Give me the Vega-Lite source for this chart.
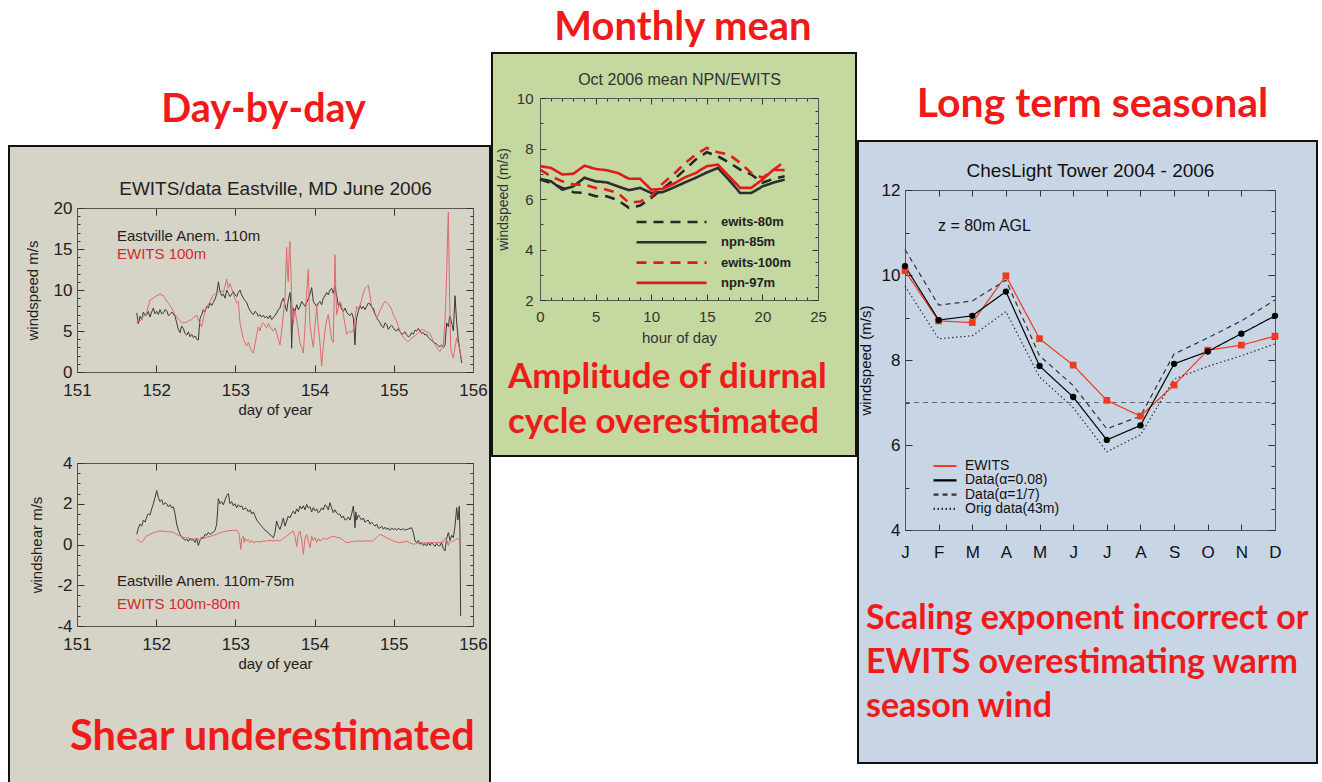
{
  "$schema": "https://vega.github.io/schema/vega-lite/v6.json",
  "padding": {"left": 8, "top": 0, "right": 0, "bottom": 0},
  "background": "white",
  "datasets": {
    "anemTop": [
      {"d":151.754,"v":7.2},{"d":151.775,"v":5.9},{"d":151.796,"v":6.8},{"d":151.817,"v":6.4},{"d":151.838,"v":7.3},{"d":151.86,"v":6.9},{"d":151.88,"v":7.0},{"d":151.9,"v":7.4},{"d":151.922,"v":6.7},{"d":151.943,"v":7.3},{"d":151.964,"v":7.8},{"d":151.985,"v":7.1},{"d":152.006,"v":7.4},{"d":152.027,"v":7.0},{"d":152.048,"v":7.6},{"d":152.07,"v":7.1},{"d":152.09,"v":7.2},{"d":152.111,"v":7.6},{"d":152.132,"v":7.5},{"d":152.153,"v":6.9},{"d":152.174,"v":7.0},{"d":152.2,"v":7.3},{"d":152.238,"v":6.8},{"d":152.259,"v":6.0},{"d":152.28,"v":5.2},{"d":152.301,"v":4.8},{"d":152.322,"v":5.6},{"d":152.343,"v":5.3},{"d":152.364,"v":4.7},{"d":152.385,"v":4.5},{"d":152.406,"v":4.9},{"d":152.427,"v":4.3},{"d":152.448,"v":4.6},{"d":152.469,"v":4.2},{"d":152.49,"v":4.4},{"d":152.511,"v":4.0},{"d":152.532,"v":3.9},{"d":152.553,"v":6.5},{"d":152.574,"v":7.0},{"d":152.595,"v":7.6},{"d":152.616,"v":7.3},{"d":152.637,"v":8.0},{"d":152.658,"v":7.8},{"d":152.68,"v":8.4},{"d":152.7,"v":8.1},{"d":152.722,"v":8.5},{"d":152.743,"v":8.9},{"d":152.764,"v":9.5},{"d":152.785,"v":11.0},{"d":152.806,"v":9.8},{"d":152.827,"v":9.3},{"d":152.848,"v":9.5},{"d":152.87,"v":9.0},{"d":152.89,"v":10.0},{"d":152.911,"v":9.6},{"d":152.932,"v":9.2},{"d":152.953,"v":9.5},{"d":152.974,"v":9.8},{"d":152.995,"v":9.4},{"d":153.016,"v":9.2},{"d":153.037,"v":9.7},{"d":153.058,"v":10.0},{"d":153.079,"v":9.4},{"d":153.1,"v":9.0},{"d":153.121,"v":8.7},{"d":153.142,"v":8.5},{"d":153.164,"v":7.9},{"d":153.185,"v":7.5},{"d":153.206,"v":7.2},{"d":153.226,"v":7.0},{"d":153.248,"v":7.4},{"d":153.269,"v":7.2},{"d":153.29,"v":6.8},{"d":153.31,"v":7.0},{"d":153.33,"v":6.7},{"d":153.353,"v":6.9},{"d":153.374,"v":6.6},{"d":153.395,"v":6.8},{"d":153.416,"v":6.5},{"d":153.437,"v":6.9},{"d":153.458,"v":6.4},{"d":153.479,"v":6.6},{"d":153.5,"v":6.9},{"d":153.521,"v":7.2},{"d":153.542,"v":7.6},{"d":153.563,"v":7.8},{"d":153.584,"v":8.6},{"d":153.605,"v":9.0},{"d":153.626,"v":8.2},{"d":153.647,"v":7.4},{"d":153.668,"v":8.8},{"d":153.689,"v":9.7},{"d":153.7,"v":8.5},{"d":153.71,"v":2.9},{"d":153.72,"v":6.0},{"d":153.731,"v":7.8},{"d":153.752,"v":7.4},{"d":153.774,"v":8.2},{"d":153.795,"v":7.6},{"d":153.816,"v":8.0},{"d":153.837,"v":8.6},{"d":153.858,"v":8.3},{"d":153.879,"v":8.0},{"d":153.9,"v":8.5},{"d":153.92,"v":8.9},{"d":153.942,"v":9.5},{"d":153.963,"v":10.3},{"d":153.984,"v":8.6},{"d":154.005,"v":8.3},{"d":154.026,"v":8.0},{"d":154.047,"v":8.4},{"d":154.068,"v":8.6},{"d":154.089,"v":8.2},{"d":154.11,"v":9.0},{"d":154.131,"v":9.3},{"d":154.152,"v":9.7},{"d":154.173,"v":9.4},{"d":154.194,"v":10.0},{"d":154.215,"v":10.2},{"d":154.236,"v":9.6},{"d":154.257,"v":10.5},{"d":154.278,"v":9.3},{"d":154.3,"v":8.1},{"d":154.32,"v":8.4},{"d":154.342,"v":7.6},{"d":154.363,"v":7.4},{"d":154.384,"v":7.8},{"d":154.405,"v":7.3},{"d":154.426,"v":7.0},{"d":154.447,"v":6.9},{"d":154.468,"v":7.2},{"d":154.489,"v":6.6},{"d":154.5,"v":5.0},{"d":154.51,"v":3.3},{"d":154.52,"v":5.5},{"d":154.531,"v":6.6},{"d":154.552,"v":7.4},{"d":154.573,"v":8.1},{"d":154.594,"v":7.7},{"d":154.615,"v":8.0},{"d":154.636,"v":7.6},{"d":154.657,"v":8.0},{"d":154.678,"v":8.4},{"d":154.7,"v":8.3},{"d":154.72,"v":7.9},{"d":154.741,"v":7.8},{"d":154.762,"v":7.1},{"d":154.784,"v":6.6},{"d":154.805,"v":6.3},{"d":154.826,"v":6.0},{"d":154.847,"v":5.6},{"d":154.868,"v":5.4},{"d":154.89,"v":6.0},{"d":154.91,"v":5.8},{"d":154.93,"v":5.2},{"d":154.952,"v":5.5},{"d":154.973,"v":5.7},{"d":154.994,"v":5.4},{"d":155.015,"v":5.1},{"d":155.036,"v":5.0},{"d":155.057,"v":5.3},{"d":155.078,"v":4.9},{"d":155.1,"v":4.6},{"d":155.12,"v":4.7},{"d":155.141,"v":4.9},{"d":155.162,"v":4.5},{"d":155.183,"v":4.3},{"d":155.204,"v":4.4},{"d":155.225,"v":4.8},{"d":155.246,"v":4.6},{"d":155.268,"v":5.1},{"d":155.29,"v":5.0},{"d":155.31,"v":5.3},{"d":155.331,"v":5.0},{"d":155.352,"v":4.7},{"d":155.373,"v":4.8},{"d":155.394,"v":4.5},{"d":155.415,"v":4.6},{"d":155.436,"v":4.2},{"d":155.457,"v":4.0},{"d":155.478,"v":3.8},{"d":155.499,"v":3.7},{"d":155.52,"v":3.5},{"d":155.541,"v":3.4},{"d":155.562,"v":3.2},{"d":155.583,"v":3.1},{"d":155.604,"v":3.3},{"d":155.625,"v":3.0},{"d":155.646,"v":3.2},{"d":155.667,"v":6.0},{"d":155.689,"v":5.5},{"d":155.705,"v":6.8},{"d":155.718,"v":6.5},{"d":155.735,"v":5.8},{"d":155.752,"v":5.0},{"d":155.773,"v":9.3},{"d":155.794,"v":6.0},{"d":155.815,"v":3.9},{"d":155.836,"v":2.5},{"d":155.857,"v":1.1}
    ],
    "ewitsTop": [
      {"d":151.754,"v":6.0},{"d":151.775,"v":6.3},{"d":151.796,"v":6.2},{"d":151.838,"v":6.8},{"d":151.88,"v":7.2},{"d":151.9,"v":8.0},{"d":151.922,"v":8.8},{"d":151.964,"v":9.0},{"d":152.006,"v":9.3},{"d":152.048,"v":9.5},{"d":152.09,"v":9.3},{"d":152.111,"v":9.0},{"d":152.153,"v":8.4},{"d":152.196,"v":7.8},{"d":152.238,"v":7.0},{"d":152.28,"v":6.5},{"d":152.322,"v":6.0},{"d":152.364,"v":6.0},{"d":152.406,"v":6.2},{"d":152.448,"v":6.4},{"d":152.49,"v":6.8},{"d":152.511,"v":6.9},{"d":152.532,"v":6.3},{"d":152.574,"v":5.5},{"d":152.616,"v":7.4},{"d":152.637,"v":7.9},{"d":152.68,"v":8.6},{"d":152.722,"v":9.4},{"d":152.764,"v":9.6},{"d":152.806,"v":10.0},{"d":152.848,"v":9.7},{"d":152.87,"v":10.5},{"d":152.89,"v":11.3},{"d":152.911,"v":10.2},{"d":152.932,"v":10.8},{"d":152.974,"v":9.5},{"d":153.016,"v":8.4},{"d":153.037,"v":8.6},{"d":153.058,"v":6.0},{"d":153.079,"v":5.0},{"d":153.1,"v":4.0},{"d":153.121,"v":3.6},{"d":153.142,"v":3.2},{"d":153.164,"v":3.6},{"d":153.185,"v":3.0},{"d":153.206,"v":2.6},{"d":153.226,"v":2.3},{"d":153.25,"v":3.5},{"d":153.27,"v":4.6},{"d":153.29,"v":5.5},{"d":153.31,"v":5.0},{"d":153.33,"v":5.8},{"d":153.353,"v":6.0},{"d":153.374,"v":5.6},{"d":153.395,"v":5.4},{"d":153.416,"v":5.9},{"d":153.437,"v":5.5},{"d":153.458,"v":5.2},{"d":153.479,"v":5.0},{"d":153.5,"v":5.4},{"d":153.521,"v":4.8},{"d":153.542,"v":4.0},{"d":153.563,"v":3.3},{"d":153.584,"v":5.0},{"d":153.605,"v":7.0},{"d":153.626,"v":9.0},{"d":153.647,"v":15.2},{"d":153.658,"v":12.0},{"d":153.668,"v":11.0},{"d":153.679,"v":14.8},{"d":153.689,"v":15.9},{"d":153.7,"v":12.5},{"d":153.71,"v":9.0},{"d":153.731,"v":5.8},{"d":153.752,"v":7.5},{"d":153.774,"v":6.4},{"d":153.795,"v":5.0},{"d":153.816,"v":3.5},{"d":153.837,"v":3.0},{"d":153.858,"v":2.3},{"d":153.879,"v":5.5},{"d":153.9,"v":9.7},{"d":153.921,"v":12.5},{"d":153.932,"v":8.0},{"d":153.942,"v":5.8},{"d":153.963,"v":4.2},{"d":153.984,"v":3.0},{"d":154.005,"v":5.6},{"d":154.026,"v":8.0},{"d":154.047,"v":5.5},{"d":154.068,"v":3.5},{"d":154.089,"v":0.7},{"d":154.11,"v":3.2},{"d":154.131,"v":5.0},{"d":154.152,"v":6.3},{"d":154.173,"v":7.0},{"d":154.194,"v":5.5},{"d":154.215,"v":4.0},{"d":154.236,"v":3.6},{"d":154.247,"v":9.0},{"d":154.257,"v":14.3},{"d":154.268,"v":10.0},{"d":154.278,"v":7.0},{"d":154.3,"v":7.8},{"d":154.32,"v":8.6},{"d":154.342,"v":8.0},{"d":154.363,"v":7.0},{"d":154.384,"v":5.8},{"d":154.405,"v":4.6},{"d":154.426,"v":4.9},{"d":154.447,"v":5.0},{"d":154.468,"v":4.8},{"d":154.489,"v":5.2},{"d":154.51,"v":6.5},{"d":154.531,"v":8.0},{"d":154.552,"v":7.7},{"d":154.573,"v":8.1},{"d":154.594,"v":8.8},{"d":154.615,"v":9.6},{"d":154.636,"v":10.2},{"d":154.657,"v":10.4},{"d":154.678,"v":10.6},{"d":154.7,"v":9.3},{"d":154.72,"v":8.0},{"d":154.741,"v":7.4},{"d":154.762,"v":7.0},{"d":154.784,"v":6.6},{"d":154.805,"v":7.0},{"d":154.826,"v":7.5},{"d":154.847,"v":7.9},{"d":154.868,"v":8.3},{"d":154.89,"v":8.6},{"d":154.91,"v":8.5},{"d":154.93,"v":8.3},{"d":154.952,"v":8.0},{"d":154.973,"v":7.6},{"d":154.994,"v":7.0},{"d":155.015,"v":6.6},{"d":155.036,"v":6.2},{"d":155.057,"v":5.6},{"d":155.078,"v":5.0},{"d":155.1,"v":4.6},{"d":155.12,"v":4.2},{"d":155.141,"v":4.0},{"d":155.162,"v":3.8},{"d":155.183,"v":3.7},{"d":155.204,"v":3.9},{"d":155.225,"v":4.1},{"d":155.246,"v":4.3},{"d":155.268,"v":4.4},{"d":155.29,"v":4.6},{"d":155.31,"v":4.8},{"d":155.331,"v":5.0},{"d":155.352,"v":5.2},{"d":155.373,"v":5.1},{"d":155.394,"v":5.0},{"d":155.415,"v":4.9},{"d":155.436,"v":4.8},{"d":155.457,"v":4.7},{"d":155.478,"v":4.2},{"d":155.499,"v":3.7},{"d":155.52,"v":3.3},{"d":155.541,"v":3.0},{"d":155.562,"v":2.7},{"d":155.583,"v":2.5},{"d":155.604,"v":2.9},{"d":155.625,"v":3.2},{"d":155.646,"v":6.2},{"d":155.658,"v":9.0},{"d":155.67,"v":13.0},{"d":155.68,"v":17.0},{"d":155.689,"v":19.5},{"d":155.697,"v":14.0},{"d":155.705,"v":9.0},{"d":155.718,"v":2.9},{"d":155.735,"v":2.2},{"d":155.752,"v":1.7},{"d":155.773,"v":3.0},{"d":155.794,"v":4.2},{"d":155.815,"v":3.4},{"d":155.836,"v":2.6},{"d":155.857,"v":1.5}
    ],
    "anemShear": [
      {"d":151.754,"v":0.5},{"d":151.775,"v":0.8},{"d":151.796,"v":1.0},{"d":151.817,"v":0.9},{"d":151.838,"v":1.2},{"d":151.86,"v":1.1},{"d":151.88,"v":1.35},{"d":151.9,"v":1.5},{"d":151.922,"v":1.45},{"d":151.943,"v":1.75},{"d":151.964,"v":2.0},{"d":151.985,"v":2.3},{"d":152.006,"v":2.65},{"d":152.027,"v":2.3},{"d":152.048,"v":2.1},{"d":152.07,"v":2.2},{"d":152.09,"v":1.95},{"d":152.111,"v":2.05},{"d":152.132,"v":2.0},{"d":152.153,"v":1.85},{"d":152.174,"v":1.95},{"d":152.196,"v":1.8},{"d":152.217,"v":1.85},{"d":152.238,"v":1.5},{"d":152.259,"v":1.0},{"d":152.28,"v":0.7},{"d":152.301,"v":0.5},{"d":152.322,"v":0.35},{"d":152.343,"v":0.3},{"d":152.364,"v":0.2},{"d":152.385,"v":0.27},{"d":152.406,"v":0.15},{"d":152.427,"v":0.3},{"d":152.448,"v":0.2},{"d":152.469,"v":0.25},{"d":152.49,"v":0.1},{"d":152.511,"v":0.3},{"d":152.532,"v":-0.05},{"d":152.553,"v":0.2},{"d":152.574,"v":0.35},{"d":152.595,"v":0.3},{"d":152.616,"v":0.5},{"d":152.637,"v":0.45},{"d":152.658,"v":0.6},{"d":152.68,"v":0.5},{"d":152.7,"v":0.55},{"d":152.722,"v":0.6},{"d":152.743,"v":0.7},{"d":152.764,"v":1.0},{"d":152.785,"v":2.25},{"d":152.806,"v":2.0},{"d":152.827,"v":2.1},{"d":152.848,"v":1.95},{"d":152.87,"v":2.2},{"d":152.89,"v":2.4},{"d":152.911,"v":2.5},{"d":152.932,"v":2.0},{"d":152.953,"v":2.1},{"d":152.974,"v":1.9},{"d":152.995,"v":2.0},{"d":153.016,"v":1.8},{"d":153.037,"v":1.95},{"d":153.058,"v":1.85},{"d":153.079,"v":1.9},{"d":153.1,"v":1.7},{"d":153.121,"v":1.8},{"d":153.143,"v":1.75},{"d":153.164,"v":1.6},{"d":153.185,"v":1.7},{"d":153.206,"v":1.5},{"d":153.227,"v":1.6},{"d":153.248,"v":1.4},{"d":153.269,"v":1.2},{"d":153.29,"v":1.1},{"d":153.31,"v":0.99},{"d":153.33,"v":0.9},{"d":153.353,"v":0.8},{"d":153.374,"v":0.7},{"d":153.395,"v":0.66},{"d":153.416,"v":0.55},{"d":153.437,"v":0.5},{"d":153.458,"v":0.4},{"d":153.479,"v":0.33},{"d":153.5,"v":0.6},{"d":153.521,"v":1.15},{"d":153.542,"v":0.9},{"d":153.563,"v":0.74},{"d":153.584,"v":1.0},{"d":153.605,"v":1.3},{"d":153.626,"v":0.9},{"d":153.647,"v":1.15},{"d":153.668,"v":1.4},{"d":153.689,"v":1.3},{"d":153.71,"v":1.5},{"d":153.731,"v":1.64},{"d":153.752,"v":1.5},{"d":153.774,"v":1.75},{"d":153.795,"v":1.6},{"d":153.816,"v":1.89},{"d":153.837,"v":1.75},{"d":153.858,"v":1.9},{"d":153.879,"v":1.7},{"d":153.9,"v":1.97},{"d":153.92,"v":1.8},{"d":153.942,"v":1.85},{"d":153.963,"v":1.6},{"d":153.984,"v":1.81},{"d":154.005,"v":1.65},{"d":154.026,"v":1.75},{"d":154.047,"v":1.55},{"d":154.068,"v":1.64},{"d":154.089,"v":1.8},{"d":154.11,"v":1.7},{"d":154.131,"v":1.95},{"d":154.152,"v":1.89},{"d":154.173,"v":1.7},{"d":154.194,"v":2.05},{"d":154.215,"v":1.8},{"d":154.236,"v":1.56},{"d":154.257,"v":1.7},{"d":154.278,"v":1.55},{"d":154.3,"v":1.48},{"d":154.32,"v":1.5},{"d":154.342,"v":1.3},{"d":154.363,"v":1.4},{"d":154.384,"v":1.2},{"d":154.405,"v":1.23},{"d":154.426,"v":1.35},{"d":154.447,"v":1.2},{"d":154.468,"v":1.5},{"d":154.489,"v":1.89},{"d":154.5,"v":1.4},{"d":154.51,"v":0.82},{"d":154.52,"v":1.6},{"d":154.531,"v":1.2},{"d":154.552,"v":1.45},{"d":154.573,"v":1.32},{"d":154.594,"v":1.2},{"d":154.615,"v":1.3},{"d":154.636,"v":1.1},{"d":154.657,"v":1.15},{"d":154.678,"v":1.2},{"d":154.7,"v":1.0},{"d":154.72,"v":1.1},{"d":154.741,"v":0.99},{"d":154.762,"v":0.9},{"d":154.784,"v":1.0},{"d":154.805,"v":0.8},{"d":154.826,"v":0.82},{"d":154.847,"v":0.9},{"d":154.868,"v":0.75},{"d":154.89,"v":0.85},{"d":154.91,"v":0.74},{"d":154.93,"v":0.8},{"d":154.952,"v":0.7},{"d":154.973,"v":0.8},{"d":154.994,"v":0.74},{"d":155.015,"v":0.78},{"d":155.036,"v":0.7},{"d":155.057,"v":0.8},{"d":155.078,"v":0.74},{"d":155.1,"v":0.72},{"d":155.12,"v":0.78},{"d":155.141,"v":0.7},{"d":155.162,"v":0.74},{"d":155.183,"v":0.76},{"d":155.204,"v":0.8},{"d":155.225,"v":0.82},{"d":155.246,"v":0.6},{"d":155.268,"v":0.17},{"d":155.29,"v":0.1},{"d":155.31,"v":0.2},{"d":155.331,"v":0.01},{"d":155.352,"v":0.1},{"d":155.373,"v":-0.05},{"d":155.394,"v":0.05},{"d":155.415,"v":-0.07},{"d":155.436,"v":0.1},{"d":155.457,"v":-0.05},{"d":155.478,"v":0.08},{"d":155.499,"v":0.01},{"d":155.52,"v":-0.1},{"d":155.541,"v":0.05},{"d":155.562,"v":-0.05},{"d":155.583,"v":-0.07},{"d":155.604,"v":0.1},{"d":155.625,"v":-0.2},{"d":155.646,"v":-0.32},{"d":155.667,"v":0.3},{"d":155.689,"v":0.58},{"d":155.71,"v":0.2},{"d":155.731,"v":0.45},{"d":155.752,"v":0.33},{"d":155.773,"v":0.9},{"d":155.794,"v":1.81},{"d":155.81,"v":1.2},{"d":155.827,"v":1.89},{"d":155.836,"v":0.5},{"d":155.844,"v":-3.51}
    ],
    "ewitsShear": [
      {"d":151.754,"v":0.25},{"d":151.775,"v":0.2},{"d":151.796,"v":0.15},{"d":151.817,"v":0.09},{"d":151.838,"v":0.2},{"d":151.86,"v":0.35},{"d":151.88,"v":0.41},{"d":151.922,"v":0.5},{"d":151.964,"v":0.58},{"d":152.006,"v":0.62},{"d":152.048,"v":0.66},{"d":152.09,"v":0.66},{"d":152.132,"v":0.64},{"d":152.174,"v":0.62},{"d":152.217,"v":0.6},{"d":152.259,"v":0.5},{"d":152.301,"v":0.42},{"d":152.343,"v":0.36},{"d":152.385,"v":0.33},{"d":152.427,"v":0.3},{"d":152.469,"v":0.27},{"d":152.511,"v":0.28},{"d":152.553,"v":0.25},{"d":152.595,"v":0.3},{"d":152.637,"v":0.35},{"d":152.68,"v":0.4},{"d":152.722,"v":0.45},{"d":152.764,"v":0.5},{"d":152.806,"v":0.58},{"d":152.848,"v":0.62},{"d":152.89,"v":0.66},{"d":152.932,"v":0.68},{"d":152.974,"v":0.7},{"d":153.016,"v":0.7},{"d":153.037,"v":0.62},{"d":153.048,"v":0.5},{"d":153.058,"v":0.1},{"d":153.069,"v":-0.24},{"d":153.079,"v":0.3},{"d":153.1,"v":0.41},{"d":153.11,"v":0.1},{"d":153.121,"v":0.3},{"d":153.142,"v":0.17},{"d":153.164,"v":0.25},{"d":153.185,"v":0.09},{"d":153.206,"v":0.2},{"d":153.226,"v":0.09},{"d":153.269,"v":0.15},{"d":153.31,"v":0.12},{"d":153.353,"v":0.17},{"d":153.395,"v":0.17},{"d":153.437,"v":0.2},{"d":153.479,"v":0.17},{"d":153.521,"v":0.2},{"d":153.563,"v":0.17},{"d":153.605,"v":0.3},{"d":153.647,"v":0.41},{"d":153.689,"v":0.55},{"d":153.731,"v":0.66},{"d":153.752,"v":0.4},{"d":153.774,"v":-0.1},{"d":153.795,"v":0.5},{"d":153.816,"v":0.66},{"d":153.837,"v":0.2},{"d":153.858,"v":-0.48},{"d":153.879,"v":0.3},{"d":153.9,"v":0.5},{"d":153.92,"v":0.2},{"d":153.942,"v":-0.16},{"d":153.963,"v":0.4},{"d":153.984,"v":0.2},{"d":154.005,"v":0.33},{"d":154.026,"v":0.1},{"d":154.047,"v":0.3},{"d":154.068,"v":0.17},{"d":154.11,"v":0.3},{"d":154.152,"v":0.25},{"d":154.194,"v":0.35},{"d":154.236,"v":0.41},{"d":154.278,"v":0.35},{"d":154.32,"v":0.33},{"d":154.363,"v":0.2},{"d":154.405,"v":0.09},{"d":154.447,"v":0.12},{"d":154.489,"v":0.15},{"d":154.531,"v":0.17},{"d":154.573,"v":0.17},{"d":154.615,"v":0.16},{"d":154.657,"v":0.18},{"d":154.7,"v":0.17},{"d":154.741,"v":0.17},{"d":154.784,"v":0.35},{"d":154.826,"v":0.5},{"d":154.868,"v":0.42},{"d":154.91,"v":0.33},{"d":154.952,"v":0.25},{"d":154.994,"v":0.17},{"d":155.036,"v":0.12},{"d":155.078,"v":0.09},{"d":155.12,"v":0.12},{"d":155.162,"v":0.17},{"d":155.204,"v":0.08},{"d":155.246,"v":0.01},{"d":155.29,"v":0.05},{"d":155.331,"v":0.09},{"d":155.373,"v":0.07},{"d":155.415,"v":0.08},{"d":155.457,"v":0.09},{"d":155.499,"v":0.09},{"d":155.541,"v":0.1},{"d":155.583,"v":0.09},{"d":155.625,"v":0.15},{"d":155.646,"v":0.3},{"d":155.667,"v":0.25},{"d":155.689,"v":-0.05},{"d":155.71,"v":0.2},{"d":155.731,"v":0.15},{"d":155.752,"v":0.17},{"d":155.773,"v":0.2},{"d":155.794,"v":0.3},{"d":155.815,"v":0.25},{"d":155.844,"v":0.17}
    ],
    "monthly": [
      {"s":"ewits-80m","h":0,"v":6.77},{"s":"ewits-80m","h":1,"v":6.64},{"s":"ewits-80m","h":2,"v":6.44},{"s":"ewits-80m","h":3,"v":6.27},{"s":"ewits-80m","h":4,"v":6.24},{"s":"ewits-80m","h":5,"v":6.11},{"s":"ewits-80m","h":6,"v":6.11},{"s":"ewits-80m","h":7,"v":5.95},{"s":"ewits-80m","h":8,"v":5.65},{"s":"ewits-80m","h":9,"v":5.74},{"s":"ewits-80m","h":10,"v":6.04},{"s":"ewits-80m","h":11,"v":6.4},{"s":"ewits-80m","h":12,"v":6.75},{"s":"ewits-80m","h":13,"v":7.15},{"s":"ewits-80m","h":14,"v":7.56},{"s":"ewits-80m","h":15,"v":7.85},{"s":"ewits-80m","h":16,"v":7.69},{"s":"ewits-80m","h":17,"v":7.45},{"s":"ewits-80m","h":18,"v":7.16},{"s":"ewits-80m","h":19,"v":6.97},{"s":"ewits-80m","h":20,"v":6.64},{"s":"ewits-80m","h":21,"v":6.8},{"s":"ewits-80m","h":22,"v":6.9},
      {"s":"npn-85m","h":0,"v":6.8},{"s":"npn-85m","h":1,"v":6.7},{"s":"npn-85m","h":2,"v":6.37},{"s":"npn-85m","h":3,"v":6.5},{"s":"npn-85m","h":4,"v":6.84},{"s":"npn-85m","h":5,"v":6.7},{"s":"npn-85m","h":6,"v":6.66},{"s":"npn-85m","h":7,"v":6.5},{"s":"npn-85m","h":8,"v":6.35},{"s":"npn-85m","h":9,"v":6.44},{"s":"npn-85m","h":10,"v":6.24},{"s":"npn-85m","h":11,"v":6.27},{"s":"npn-85m","h":12,"v":6.45},{"s":"npn-85m","h":13,"v":6.65},{"s":"npn-85m","h":14,"v":6.84},{"s":"npn-85m","h":15,"v":7.05},{"s":"npn-85m","h":16,"v":7.23},{"s":"npn-85m","h":17,"v":6.75},{"s":"npn-85m","h":18,"v":6.24},{"s":"npn-85m","h":19,"v":6.24},{"s":"npn-85m","h":20,"v":6.5},{"s":"npn-85m","h":21,"v":6.65},{"s":"npn-85m","h":22,"v":6.77},
      {"s":"ewits-100m","h":0,"v":7.16},{"s":"ewits-100m","h":1,"v":6.9},{"s":"ewits-100m","h":2,"v":6.7},{"s":"ewits-100m","h":3,"v":6.57},{"s":"ewits-100m","h":4,"v":6.57},{"s":"ewits-100m","h":5,"v":6.44},{"s":"ewits-100m","h":6,"v":6.37},{"s":"ewits-100m","h":7,"v":6.24},{"s":"ewits-100m","h":8,"v":5.85},{"s":"ewits-100m","h":9,"v":5.9},{"s":"ewits-100m","h":10,"v":6.1},{"s":"ewits-100m","h":11,"v":6.6},{"s":"ewits-100m","h":12,"v":6.97},{"s":"ewits-100m","h":13,"v":7.4},{"s":"ewits-100m","h":14,"v":7.76},{"s":"ewits-100m","h":15,"v":8.02},{"s":"ewits-100m","h":16,"v":7.85},{"s":"ewits-100m","h":17,"v":7.76},{"s":"ewits-100m","h":18,"v":7.43},{"s":"ewits-100m","h":19,"v":7.03},{"s":"ewits-100m","h":20,"v":6.84},{"s":"ewits-100m","h":21,"v":7.16},{"s":"ewits-100m","h":22,"v":7.49},
      {"s":"npn-97m","h":0,"v":7.3},{"s":"npn-97m","h":1,"v":7.23},{"s":"npn-97m","h":2,"v":6.97},{"s":"npn-97m","h":3,"v":7.0},{"s":"npn-97m","h":4,"v":7.32},{"s":"npn-97m","h":5,"v":7.19},{"s":"npn-97m","h":6,"v":7.14},{"s":"npn-97m","h":7,"v":7.03},{"s":"npn-97m","h":8,"v":6.8},{"s":"npn-97m","h":9,"v":6.8},{"s":"npn-97m","h":10,"v":6.37},{"s":"npn-97m","h":11,"v":6.4},{"s":"npn-97m","h":12,"v":6.6},{"s":"npn-97m","h":13,"v":6.85},{"s":"npn-97m","h":14,"v":7.03},{"s":"npn-97m","h":15,"v":7.3},{"s":"npn-97m","h":16,"v":7.36},{"s":"npn-97m","h":17,"v":6.9},{"s":"npn-97m","h":18,"v":6.44},{"s":"npn-97m","h":19,"v":6.44},{"s":"npn-97m","h":20,"v":6.77},{"s":"npn-97m","h":21,"v":7.16},{"s":"npn-97m","h":22,"v":7.14}
    ],
    "seasonal": [
      {"s":"EWITS","m":1,"v":10.1},{"s":"EWITS","m":2,"v":8.92},{"s":"EWITS","m":3,"v":8.88},{"s":"EWITS","m":4,"v":9.98},{"s":"EWITS","m":5,"v":8.5},{"s":"EWITS","m":6,"v":7.88},{"s":"EWITS","m":7,"v":7.05},{"s":"EWITS","m":8,"v":6.68},{"s":"EWITS","m":9,"v":7.41},{"s":"EWITS","m":10,"v":8.23},{"s":"EWITS","m":11,"v":8.35},{"s":"EWITS","m":12,"v":8.56},
      {"s":"Data(α=0.08)","m":1,"v":10.21},{"s":"Data(α=0.08)","m":2,"v":8.94},{"s":"Data(α=0.08)","m":3,"v":9.04},{"s":"Data(α=0.08)","m":4,"v":9.61},{"s":"Data(α=0.08)","m":5,"v":7.86},{"s":"Data(α=0.08)","m":6,"v":7.13},{"s":"Data(α=0.08)","m":7,"v":6.12},{"s":"Data(α=0.08)","m":8,"v":6.46},{"s":"Data(α=0.08)","m":9,"v":7.91},{"s":"Data(α=0.08)","m":10,"v":8.2},{"s":"Data(α=0.08)","m":11,"v":8.62},{"s":"Data(α=0.08)","m":12,"v":9.04},
      {"s":"Data(α=1/7)","m":1,"v":10.6},{"s":"Data(α=1/7)","m":2,"v":9.29},{"s":"Data(α=1/7)","m":3,"v":9.39},{"s":"Data(α=1/7)","m":4,"v":9.88},{"s":"Data(α=1/7)","m":5,"v":8.1},{"s":"Data(α=1/7)","m":6,"v":7.4},{"s":"Data(α=1/7)","m":7,"v":6.38},{"s":"Data(α=1/7)","m":8,"v":6.68},{"s":"Data(α=1/7)","m":9,"v":8.14},{"s":"Data(α=1/7)","m":10,"v":8.52},{"s":"Data(α=1/7)","m":11,"v":8.92},{"s":"Data(α=1/7)","m":12,"v":9.41},
      {"s":"Orig data(43m)","m":1,"v":9.74},{"s":"Orig data(43m)","m":2,"v":8.5},{"s":"Orig data(43m)","m":3,"v":8.57},{"s":"Orig data(43m)","m":4,"v":9.14},{"s":"Orig data(43m)","m":5,"v":7.6},{"s":"Orig data(43m)","m":6,"v":6.88},{"s":"Orig data(43m)","m":7,"v":5.84},{"s":"Orig data(43m)","m":8,"v":6.24},{"s":"Orig data(43m)","m":9,"v":7.55},{"s":"Orig data(43m)","m":10,"v":7.85},{"s":"Orig data(43m)","m":11,"v":8.1},{"s":"Orig data(43m)","m":12,"v":8.38}
    ]
  },
  "spacing": 0,
  "resolve": {"scale": {"color": "independent", "strokeDash": "independent"}, "legend": {"color": "independent", "strokeDash": "independent"}},
  "hconcat": [
    {
      "spacing": 0,
      "resolve": {"scale": {"color": "independent", "strokeDash": "independent"}, "legend": {"color": "independent", "strokeDash": "independent"}},
      "vconcat": [
        {
          "width": 481, "height": 145,
          "view": {"stroke": null},
          "data": {"values": [{"t": "Day-by-day"}]},
          "mark": {"type": "text", "font": "Lato", "fontWeight": "bold", "fontSize": 39.5, "color": "#f01a1a", "dy": 37, "dx": 14},
          "encoding": {"text": {"field": "t"}}
        },
        {
          "width": 481, "height": 637,
          "view": {"fill": "#d6d3c7", "stroke": "#111111", "strokeWidth": 2},
          "title": {"text": "Shear underestimated", "orient": "bottom", "anchor": "start", "frame": "group", "offset": -66, "dx": 61, "font": "Lato", "fontWeight": "bold", "fontSize": 41.5, "color": "#f01a1a"},
          "resolve": {"scale": {"x": "independent", "y": "independent", "color": "independent"}, "axis": {"x": "independent", "y": "independent"}, "legend": {"color": "independent"}},
          "layer": [
            {
              "data": {"name": "anemTop"},
              "mark": {"type": "line", "strokeWidth": 1},
              "encoding": {
                "x": {"field": "d", "type": "quantitative", "scale": {"domain": [151, 156], "range": [68, 464], "nice": false, "zero": false},
                  "axis": {"orient": "bottom", "offset": -411, "values": [151, 152, 153, 154, 155, 156], "format": "d", "labelOverlap": false, "tickSize": -7, "labelPadding": 17, "labelFontSize": 17, "title": "day of year", "titleFontSize": 15, "titlePadding": 4}},
                "y": {"field": "v", "type": "quantitative", "scale": {"domain": [0, 20], "range": [226, 62], "nice": false, "zero": false},
                  "axis": {"orient": "left", "offset": -68, "values": [0,1,2,3,4,5,6,7,8,9,10,11,12,13,14,15,16,17,18,19,20], "format": "d", "labelExpr": "datum.value % 5 == 0 ? datum.label : ''", "labelOverlap": false, "tickSize": {"condition": {"test": "datum.value % 5 == 0", "value": -7}, "value": -3}, "labelPadding": 12, "labelFontSize": 17, "title": "windspeed m/s", "titleFontSize": 15, "titlePadding": 13}},
                "color": {"datum": "Eastville Anem. 110m", "scale": {"range": ["#3a3a3a"]},
                  "legend": {"orient": "none", "legendX": 93, "legendY": 82, "title": null, "symbolSize": 0, "symbolStrokeWidth": 0, "symbolOpacity": 0, "labelOffset": 0, "padding": 0, "labelFontSize": 15, "labelColor": "#1e1e1e"}}
              }
            },
            {
              "data": {"name": "ewitsTop"},
              "mark": {"type": "line", "strokeWidth": 1},
              "encoding": {
                "x": {"field": "d", "type": "quantitative", "scale": {"domain": [151, 156], "range": [68, 464], "nice": false, "zero": false},
                  "axis": {"orient": "top", "offset": -62, "values": [151, 152, 153, 154, 155, 156], "labels": false, "tickSize": -7, "title": "EWITS/data Eastville, MD June 2006", "titleFontSize": 19, "titlePadding": 9}},
                "y": {"field": "v", "type": "quantitative", "scale": {"domain": [0, 20], "range": [226, 62], "nice": false, "zero": false},
                  "axis": {"orient": "right", "offset": -17, "values": [0,1,2,3,4,5,6,7,8,9,10,11,12,13,14,15,16,17,18,19,20], "labels": false, "tickSize": {"condition": {"test": "datum.value % 5 == 0", "value": -7}, "value": -3}, "title": null}},
                "color": {"datum": "EWITS 100m", "scale": {"range": ["#de6b6b"]},
                  "legend": {"orient": "none", "legendX": 93, "legendY": 100, "title": null, "symbolSize": 0, "symbolStrokeWidth": 0, "symbolOpacity": 0, "labelOffset": 0, "padding": 0, "labelFontSize": 15, "labelColor": "#d42a2a"}}
              }
            },
            {
              "data": {"name": "anemShear"},
              "mark": {"type": "line", "strokeWidth": 1},
              "encoding": {
                "x": {"field": "d", "type": "quantitative", "scale": {"domain": [151, 156], "range": [68, 464], "nice": false, "zero": false},
                  "axis": {"orient": "bottom", "offset": -157, "values": [151, 152, 153, 154, 155, 156], "format": "d", "labelOverlap": false, "tickSize": -7, "labelPadding": 17, "labelFontSize": 17, "title": "day of year", "titleFontSize": 15, "titlePadding": 4}},
                "y": {"field": "v", "type": "quantitative", "scale": {"domain": [-4, 4], "range": [480, 317], "nice": false, "zero": false},
                  "axis": {"orient": "left", "offset": -68, "values": [-4,-3.5,-3,-2.5,-2,-1.5,-1,-0.5,0,0.5,1,1.5,2,2.5,3,3.5,4], "labelExpr": "datum.value % 2 == 0 ? (datum.value < 0 ? '-' + abs(datum.value) : '' + datum.value) : ''", "labelOverlap": false, "tickSize": {"condition": {"test": "datum.value % 2 == 0", "value": -7}, "value": -3}, "labelPadding": 12, "labelFontSize": 17, "title": "windshear m/s", "titleFontSize": 15, "titlePadding": 12}},
                "color": {"datum": "Eastville Anem. 110m-75m", "scale": {"range": ["#3a3a3a"]},
                  "legend": {"orient": "none", "legendX": 93, "legendY": 427, "title": null, "symbolSize": 0, "symbolStrokeWidth": 0, "symbolOpacity": 0, "labelOffset": 0, "padding": 0, "labelFontSize": 15, "labelColor": "#1e1e1e"}}
              }
            },
            {
              "data": {"name": "ewitsShear"},
              "mark": {"type": "line", "strokeWidth": 1},
              "encoding": {
                "x": {"field": "d", "type": "quantitative", "scale": {"domain": [151, 156], "range": [68, 464], "nice": false, "zero": false},
                  "axis": {"orient": "top", "offset": -317, "values": [151, 152, 153, 154, 155, 156], "labels": false, "tickSize": -7, "title": null}},
                "y": {"field": "v", "type": "quantitative", "scale": {"domain": [-4, 4], "range": [480, 317], "nice": false, "zero": false},
                  "axis": {"orient": "right", "offset": -17, "values": [-4,-3.5,-3,-2.5,-2,-1.5,-1,-0.5,0,0.5,1,1.5,2,2.5,3,3.5,4], "labels": false, "tickSize": {"condition": {"test": "datum.value % 2 == 0", "value": -7}, "value": -3}, "title": null}},
                "color": {"datum": "EWITS 100m-80m", "scale": {"range": ["#de6b6b"]},
                  "legend": {"orient": "none", "legendX": 93, "legendY": 450, "title": null, "symbolSize": 0, "symbolStrokeWidth": 0, "symbolOpacity": 0, "labelOffset": 0, "padding": 0, "labelFontSize": 15, "labelColor": "#d42a2a"}}
              }
            }
          ]
        }
      ]
    },
    {
      "spacing": 0,
      "resolve": {"scale": {"color": "independent", "strokeDash": "independent"}, "legend": {"color": "independent", "strokeDash": "independent"}},
      "vconcat": [
        {
          "width": 364, "height": 52,
          "view": {"stroke": null},
          "data": {"values": [{"t": "Monthly mean"}]},
          "mark": {"type": "text", "font": "Lato", "fontWeight": "bold", "fontSize": 40, "color": "#f01a1a", "dy": 2, "dx": 9},
          "encoding": {"text": {"field": "t"}}
        },
        {
          "width": 364, "height": 403,
          "view": {"fill": "#c4d89f", "stroke": "#111111", "strokeWidth": 2},
          "title": {"text": ["Amplitude of diurnal", "cycle overestimated"], "orient": "bottom", "anchor": "start", "frame": "group", "offset": -96, "dx": 16, "lineHeight": 45, "font": "Lato", "fontWeight": "bold", "fontSize": 35, "color": "#f01a1a"},
          "data": {"name": "monthly"},
          "resolve": {"axis": {"x": "independent", "y": "independent"}},
          "layer": [
            {
              "mark": {"type": "line", "strokeWidth": 2.6},
              "encoding": {
                "x": {"field": "h", "type": "quantitative", "scale": {"domain": [0, 25], "range": [48, 326], "nice": false, "zero": false},
                  "axis": {"orient": "bottom", "offset": -156, "values": [0,1,2,3,4,5,6,7,8,9,10,11,12,13,14,15,16,17,18,19,20,21,22,23,24,25], "format": "d", "labelExpr": "datum.value % 5 == 0 ? datum.label : ''", "labelOverlap": false, "tickSize": {"condition": {"test": "datum.value % 5 == 0", "value": -6}, "value": -3}, "labelPadding": 15, "labelFontSize": 15, "labelColor": "#333333", "title": "hour of day", "titleFontSize": 15, "titleColor": "#333333", "titlePadding": 3}},
                "y": {"field": "v", "type": "quantitative", "scale": {"domain": [2, 10], "range": [247, 45], "nice": false, "zero": false},
                  "axis": {"orient": "left", "offset": -48, "values": [2,2.5,3,3.5,4,4.5,5,5.5,6,6.5,7,7.5,8,8.5,9,9.5,10], "format": "d", "labelExpr": "datum.value % 2 == 0 ? datum.label : ''", "labelOverlap": false, "tickSize": {"condition": {"test": "datum.value % 2 == 0", "value": -6}, "value": -3}, "labelPadding": 13, "labelFontSize": 15, "labelColor": "#333333", "title": "windspeed (m/s)", "titleFontSize": 14, "titleColor": "#333333", "titlePadding": 6}},
                "color": {"field": "s", "type": "nominal", "scale": {"domain": ["ewits-80m", "npn-85m", "ewits-100m", "npn-97m"], "range": ["#262626", "#2e2e2e", "#e01b1b", "#e01b1b"]},
                  "legend": {"orient": "none", "legendX": 143, "legendY": 161, "title": null, "symbolType": "stroke", "symbolSize": 4900, "clipHeight": 16, "rowPadding": 4.3, "symbolStrokeWidth": 2.6, "labelOffset": 13, "labelFontSize": 13, "labelFontWeight": "bold", "labelColor": "#222222", "padding": 0}},
                "strokeDash": {"field": "s", "type": "nominal", "scale": {"domain": ["ewits-80m", "npn-85m", "ewits-100m", "npn-97m"], "range": [[10, 7], [1, 0], [10, 7], [1, 0]]},
                  "legend": {"orient": "none", "legendX": 143, "legendY": 161, "title": null, "symbolType": "stroke", "symbolSize": 4900, "clipHeight": 16, "rowPadding": 4.3, "symbolStrokeWidth": 2.6, "labelOffset": 13, "labelFontSize": 13, "labelFontWeight": "bold", "labelColor": "#222222", "padding": 0}}
              }
            },
            {
              "mark": {"type": "point", "opacity": 0},
              "encoding": {
                "x": {"field": "h", "type": "quantitative", "scale": {"domain": [0, 25], "range": [48, 326], "nice": false, "zero": false},
                  "axis": {"orient": "top", "offset": -45, "values": [0,1,2,3,4,5,6,7,8,9,10,11,12,13,14,15,16,17,18,19,20,21,22,23,24,25], "labels": false, "tickSize": {"condition": {"test": "datum.value % 5 == 0", "value": -6}, "value": -3}, "title": "Oct 2006 mean  NPN/EWITS", "titleFontSize": 16, "titleColor": "#333333", "titlePadding": 10}},
                "y": {"field": "v", "type": "quantitative", "scale": {"domain": [2, 10], "range": [247, 45], "nice": false, "zero": false},
                  "axis": {"orient": "right", "offset": -38, "values": [2,2.5,3,3.5,4,4.5,5,5.5,6,6.5,7,7.5,8,8.5,9,9.5,10], "labels": false, "tickSize": {"condition": {"test": "datum.value % 2 == 0", "value": -6}, "value": -3}, "title": null}}
              }
            }
          ]
        }
      ]
    },
    {
      "spacing": 0,
      "resolve": {"scale": {"color": "independent", "strokeDash": "independent"}, "legend": {"color": "independent", "strokeDash": "independent"}},
      "vconcat": [
        {
          "width": 459, "height": 140,
          "view": {"stroke": null},
          "data": {"values": [{"t": "Long term seasonal"}]},
          "mark": {"type": "text", "font": "Lato", "fontWeight": "bold", "fontSize": 41, "color": "#f01a1a", "dy": 35, "dx": 5},
          "encoding": {"text": {"field": "t"}}
        },
        {
          "width": 459, "height": 622,
          "view": {"fill": "#c7d5e4", "stroke": "#111111", "strokeWidth": 2},
          "title": {"text": ["Scaling exponent incorrect or", "EWITS overestimating warm", "season wind"], "orient": "bottom", "anchor": "start", "frame": "group", "offset": -161, "dx": 8, "lineHeight": 44, "font": "Lato", "fontWeight": "bold", "fontSize": 34, "color": "#f01a1a"},
          "resolve": {"axis": {"x": "independent", "y": "independent"}},
          "layer": [
            {
              "data": {"values": [{}]},
              "mark": {"type": "rule", "strokeDash": [5, 4], "color": "#6a6a6a", "strokeWidth": 1},
              "encoding": {
                "x": {"datum": 1, "type": "quantitative", "scale": {"domain": [1, 12], "range": [47, 417], "nice": false, "zero": false}, "axis": null},
                "x2": {"datum": 12},
                "y": {"datum": 7, "type": "quantitative", "scale": {"domain": [4, 12], "range": [389, 49], "nice": false, "zero": false}, "axis": null}
              }
            },
            {
              "data": {"name": "seasonal"},
              "mark": {"type": "line", "strokeWidth": 1.2},
              "encoding": {
                "x": {"field": "m", "type": "quantitative", "scale": {"domain": [1, 12], "range": [47, 417], "nice": false, "zero": false},
                  "axis": {"orient": "bottom", "offset": -233, "values": [1,2,3,4,5,6,7,8,9,10,11,12], "labelExpr": "['J','F','M','A','M','J','J','A','S','O','N','D'][datum.value - 1]", "labelOverlap": false, "tickSize": -6, "labelPadding": 20.5, "labelFontSize": 17, "labelColor": "#111111", "title": null}},
                "y": {"field": "v", "type": "quantitative", "scale": {"domain": [4, 12], "range": [389, 49], "nice": false, "zero": false},
                  "axis": {"orient": "left", "offset": -47, "values": [4,4.5,5,5.5,6,6.5,7,7.5,8,8.5,9,9.5,10,10.5,11,11.5,12], "format": "d", "labelExpr": "datum.value % 2 == 0 ? datum.label : ''", "labelOverlap": false, "tickSize": {"condition": {"test": "datum.value % 2 == 0", "value": -7}, "value": -4}, "labelPadding": 12, "labelFontSize": 17, "labelColor": "#111111", "title": "windspeed (m/s)", "titleFontSize": 15, "titleColor": "#111111", "titlePadding": 8}},
                "color": {"field": "s", "type": "nominal", "scale": {"domain": ["EWITS", "Data(α=0.08)", "Data(α=1/7)", "Orig data(43m)"], "range": ["#f2391b", "#000000", "#333333", "#333333"]},
                  "legend": {"orient": "none", "legendX": 74, "legendY": 318, "title": null, "symbolType": "stroke", "symbolSize": 529, "clipHeight": 14, "rowPadding": 0.3, "symbolStrokeWidth": 2.2, "labelOffset": 7, "labelFontSize": 14, "labelColor": "#111111", "padding": 0}},
                "strokeDash": {"field": "s", "type": "nominal", "scale": {"domain": ["EWITS", "Data(α=0.08)", "Data(α=1/7)", "Orig data(43m)"], "range": [[1, 0], [1, 0], [5, 4], [1.5, 2.5]]},
                  "legend": {"orient": "none", "legendX": 74, "legendY": 318, "title": null, "symbolType": "stroke", "symbolSize": 529, "clipHeight": 14, "rowPadding": 0.3, "symbolStrokeWidth": 2.2, "labelOffset": 7, "labelFontSize": 14, "labelColor": "#111111", "padding": 0}}
              }
            },
            {
              "data": {"name": "seasonal"},
              "transform": [{"filter": "datum.s == 'EWITS'"}],
              "mark": {"type": "square", "size": 45, "color": "#f2391b", "opacity": 1},
              "encoding": {
                "x": {"field": "m", "type": "quantitative", "scale": {"domain": [1, 12], "range": [47, 417], "nice": false, "zero": false},
                  "axis": {"orient": "top", "offset": -49, "values": [1,2,3,4,5,6,7,8,9,10,11,12], "labels": false, "tickSize": -6, "title": "ChesLight Tower  2004 - 2006", "titleFontSize": 19, "titleColor": "#111111", "titlePadding": 9}},
                "y": {"field": "v", "type": "quantitative", "scale": {"domain": [4, 12], "range": [389, 49], "nice": false, "zero": false},
                  "axis": {"orient": "right", "offset": -42, "values": [4,4.5,5,5.5,6,6.5,7,7.5,8,8.5,9,9.5,10,10.5,11,11.5,12], "labels": false, "tickSize": {"condition": {"test": "datum.value % 2 == 0", "value": -7}, "value": -4}, "title": null}}
              }
            },
            {
              "data": {"name": "seasonal"},
              "transform": [{"filter": "datum.s == 'Data(α=0.08)'"}],
              "mark": {"type": "circle", "size": 40, "color": "#000000", "opacity": 1},
              "encoding": {
                "x": {"field": "m", "type": "quantitative", "scale": {"domain": [1, 12], "range": [47, 417], "nice": false, "zero": false}, "axis": null},
                "y": {"field": "v", "type": "quantitative", "scale": {"domain": [4, 12], "range": [389, 49], "nice": false, "zero": false}, "axis": null}
              }
            },
            {
              "data": {"values": [{"note": "z = 80m AGL"}]},
              "mark": {"type": "text", "align": "left", "baseline": "middle", "fontSize": 16, "font": "Liberation Sans", "color": "#111111"},
              "encoding": {
                "x": {"datum": 1.98, "type": "quantitative", "axis": null},
                "y": {"datum": 11.15, "type": "quantitative", "axis": null},
                "text": {"field": "note"}
              }
            }
          ]
        }
      ]
    }
  ],
  "config": {
    "view": {"stroke": null},
    "axis": {"grid": false, "domainColor": "#555555", "tickColor": "#333333", "labelColor": "#222222", "titleColor": "#222222", "labelFont": "Liberation Sans", "titleFont": "Liberation Sans", "titleFontWeight": "normal", "zindex": 1, "labelFlush": false, "labelOverlap": false, "domainWidth": 1, "tickWidth": 1},
    "legend": {"labelFont": "Liberation Sans", "labelLimit": 400}
  }
}
